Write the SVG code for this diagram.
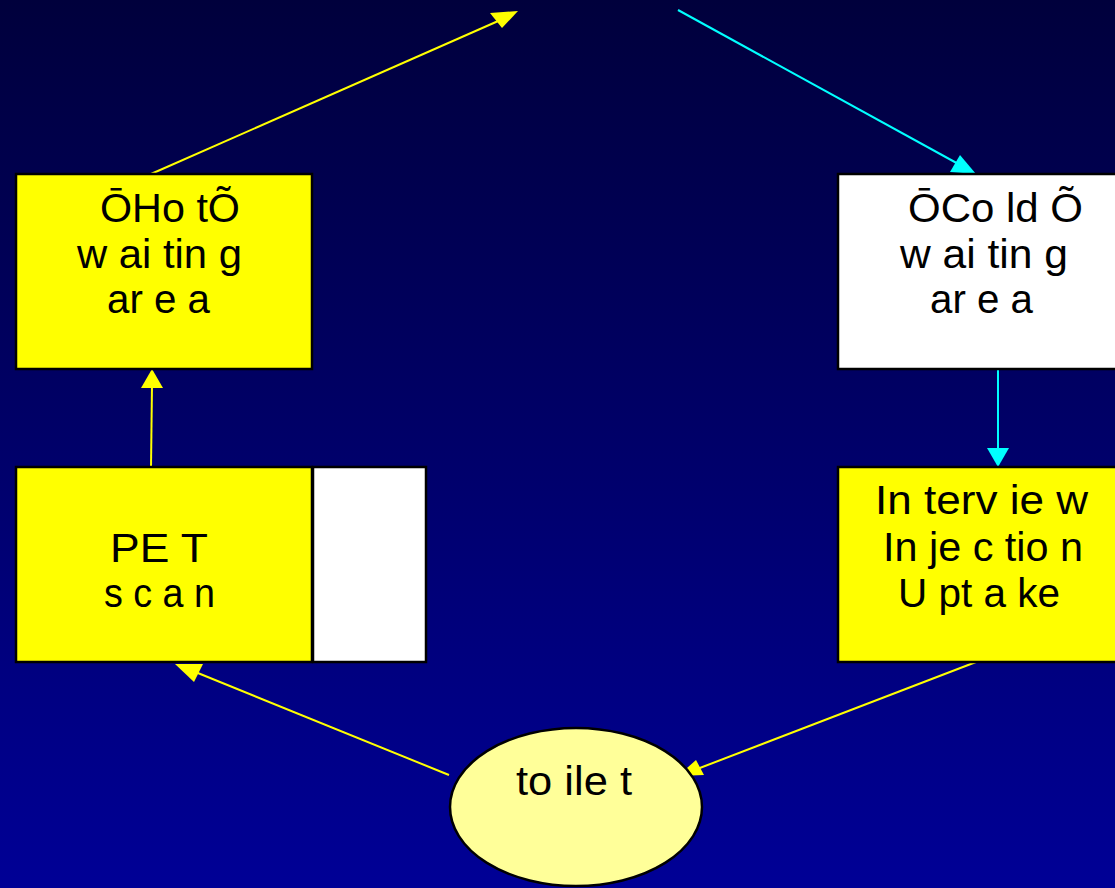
<svg xmlns="http://www.w3.org/2000/svg" width="1115" height="888" viewBox="0 0 1115 888">
<defs>
<linearGradient id="bg" x1="0" y1="0" x2="0" y2="1">
<stop offset="0" stop-color="#00003c"/>
<stop offset="1" stop-color="#000096"/>
</linearGradient>
</defs>
<style>
.box{stroke:#000;stroke-width:2.5}
.y{fill:#ffff00}
.w{fill:#ffffff}
.t{font-family:"Liberation Sans",Arial,sans-serif;font-size:41px;fill:#000}
.ly{stroke:#ffff00;stroke-width:2;fill:none}
.lc{stroke:#00ffff;stroke-width:2;fill:none}
.hy{fill:#ffff00}
.hc{fill:#00ffff}
</style>
<rect x="0" y="0" width="1115" height="888" fill="url(#bg)"/>
<g id="connectors">
<line class="ly" x1="151" y1="174" x2="505" y2="18"/>
<path class="hy" d="M518,11 L490,13 L502,28 z"/>
<line class="lc" x1="678" y1="10" x2="962" y2="166"/>
<path class="hc" d="M976,174 L960,155 L950,172 z"/>
<line class="lc" x1="998" y1="370" x2="998" y2="452"/>
<path class="hc" d="M998,467 L987,448 L1009,448 z"/>
<line class="ly" x1="976" y1="662" x2="692" y2="771"/>
<path class="hy" d="M678,776 L704,775 L696,760 z"/>
<line class="ly" x1="449" y1="775" x2="188" y2="669"/>
<path class="hy" d="M175,664 L194,682 L203,664 z"/>
<line class="ly" x1="151" y1="467" x2="152" y2="384"/>
<path class="hy" d="M152,369 L141,388 L163,388 z"/>
</g>
<g id="hot">
<rect class="box y" x="16" y="174" width="296" height="195"/>
<text class="t" x="100" y="222" textLength="140" lengthAdjust="spacingAndGlyphs">ŌHo tÕ</text>
<text class="t" x="77" y="268" textLength="165" lengthAdjust="spacingAndGlyphs">w ai tin g</text>
<text class="t" x="107" y="313" textLength="103" lengthAdjust="spacingAndGlyphs">ar e a</text>
</g>
<g id="cold">
<rect class="box w" x="838" y="174" width="290" height="195"/>
<text class="t" x="908" y="222" textLength="175" lengthAdjust="spacingAndGlyphs">ŌCo ld Õ</text>
<text class="t" x="900" y="268" textLength="168" lengthAdjust="spacingAndGlyphs">w ai tin g</text>
<text class="t" x="930" y="313" textLength="103" lengthAdjust="spacingAndGlyphs">ar e a</text>
</g>
<g id="pet">
<rect class="box y" x="16" y="467" width="296" height="195"/>
<rect class="box w" x="313" y="467" width="113" height="195"/>
<text class="t" x="110" y="562" textLength="98" lengthAdjust="spacingAndGlyphs">PE T</text>
<text class="t" x="104" y="607" textLength="111" lengthAdjust="spacingAndGlyphs">s c a n</text>
</g>
<g id="interview">
<rect class="box y" x="838" y="467" width="290" height="195"/>
<text class="t" x="875" y="514" textLength="213" lengthAdjust="spacingAndGlyphs">In terv ie w</text>
<text class="t" x="883" y="561" textLength="200" lengthAdjust="spacingAndGlyphs">In je c tio n</text>
<text class="t" x="898" y="607" textLength="162" lengthAdjust="spacingAndGlyphs">U pt a ke</text>
</g>
<g id="toilet">
<ellipse cx="576" cy="807" rx="126" ry="79" fill="#ffff99" stroke="#000" stroke-width="2.5"/>
<text class="t" x="516" y="795" textLength="116" lengthAdjust="spacingAndGlyphs">to ile t</text>
</g>
</svg>
